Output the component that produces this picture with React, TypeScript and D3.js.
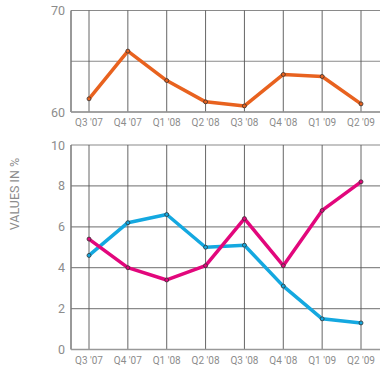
import * as d3 from "d3";
import { useEffect, useRef } from "react";

const quarters = ["Q3 '07", "Q4 '07", "Q1 '08", "Q2 '08", "Q3 '08", "Q4 '08", "Q1 '09", "Q2 '09"];
const orangeValues = [61.3, 66.0, 63.1, 61.0, 60.6, 63.7, 63.5, 60.8];
const pinkValues = [5.4, 4.0, 3.4, 4.1, 6.4, 4.1, 6.8, 8.2];
const blueValues = [4.6, 6.2, 6.6, 5.0, 5.1, 3.1, 1.5, 1.3];
const topTicks = [60, 70];
const bottomTicks = [0, 2, 4, 6, 8, 10];

export default function App() {
  const ref = useRef<SVGSVGElement>(null);

  useEffect(() => {
    const svg = d3.select(ref.current);
    svg.selectAll("*").remove();

    const font = "Roboto, 'DejaVu Sans', sans-serif";
    const left = 71, right = 380;

    // x positions shared by both panels
    const x = d3.scalePoint<string>().domain(quarters).range([89, 361]);

    const panel = (top: number, bottom: number, domain: [number, number], gridTicks: number[], labelTicks: number[]) => {
      const y = d3.scaleLinear().domain(domain).range([bottom, top]);
      const g = svg.append("g");

      g.selectAll("line.h").data(gridTicks).enter().append("line")
        .attr("x1", left).attr("x2", right)
        .attr("y1", d => y(d)).attr("y2", d => y(d))
        .attr("stroke", "#8a8a8a").attr("stroke-width", 1.2);

      g.selectAll("line.v").data(quarters).enter().append("line")
        .attr("x1", d => x(d)!).attr("x2", d => x(d)!)
        .attr("y1", top).attr("y2", bottom)
        .attr("stroke", "#555").attr("stroke-width", 0.9);

      // axis lines
      g.append("line").attr("x1", left).attr("x2", left).attr("y1", top).attr("y2", bottom)
        .attr("stroke", "#777").attr("stroke-width", 1.5);
      g.append("line").attr("x1", left).attr("x2", right).attr("y1", bottom).attr("y2", bottom)
        .attr("stroke", "#999").attr("stroke-width", 1.5);

      g.selectAll("text.yt").data(labelTicks).enter().append("text")
        .attr("x", left - 6).attr("y", d => y(d) + 4.5)
        .attr("text-anchor", "end")
        .attr("font-family", font).attr("font-size", 12.5)
        .attr("fill", "#8c8c8c")
        .text(d => d);

      g.selectAll("text.xt").data(quarters).enter().append("text")
        .attr("x", d => x(d)!).attr("y", bottom + 14)
        .attr("text-anchor", "middle")
        .attr("font-family", font).attr("font-size", 10)
        .attr("fill", "#8c8c8c")
        .text(d => d);

      return y;
    };

    const drawSeries = (y: d3.ScaleLinear<number, number>, values: number[], color: string) => {
      const line = d3.line<number>().x((_, i) => x(quarters[i])!).y(d => y(d));
      svg.append("path").datum(values)
        .attr("d", line)
        .attr("fill", "none")
        .attr("stroke", color)
        .attr("stroke-width", 3.5)
        .attr("stroke-linejoin", "round");
      svg.append("g").selectAll("circle").data(values).enter().append("circle")
        .attr("cx", (_, i) => x(quarters[i])!)
        .attr("cy", d => y(d))
        .attr("r", 2)
        .attr("fill", color)
        .attr("stroke", "#333")
        .attr("stroke-width", 0.8);
    };

    const yTop = panel(10.5, 112, [60, 70], [60, 65, 70], topTicks);
    drawSeries(yTop, orangeValues, "#e8621f");

    const yBottom = panel(145, 349.5, [0, 10], bottomTicks, bottomTicks);
    drawSeries(yBottom, blueValues, "#14a8e0");
    drawSeries(yBottom, pinkValues, "#e2077c");

    svg.append("text")
      .attr("transform", "translate(19,194) rotate(-90)")
      .attr("text-anchor", "middle")
      .attr("font-family", font).attr("font-size", 12.5)
      .attr("fill", "#8c8c8c")
      .text("VALUES IN %");
  }, []);

  return (
    <svg ref={ref} width={391} height={390} style={{ position: "absolute", left: 0, top: 0, background: "#fff" }} />
  );
}
